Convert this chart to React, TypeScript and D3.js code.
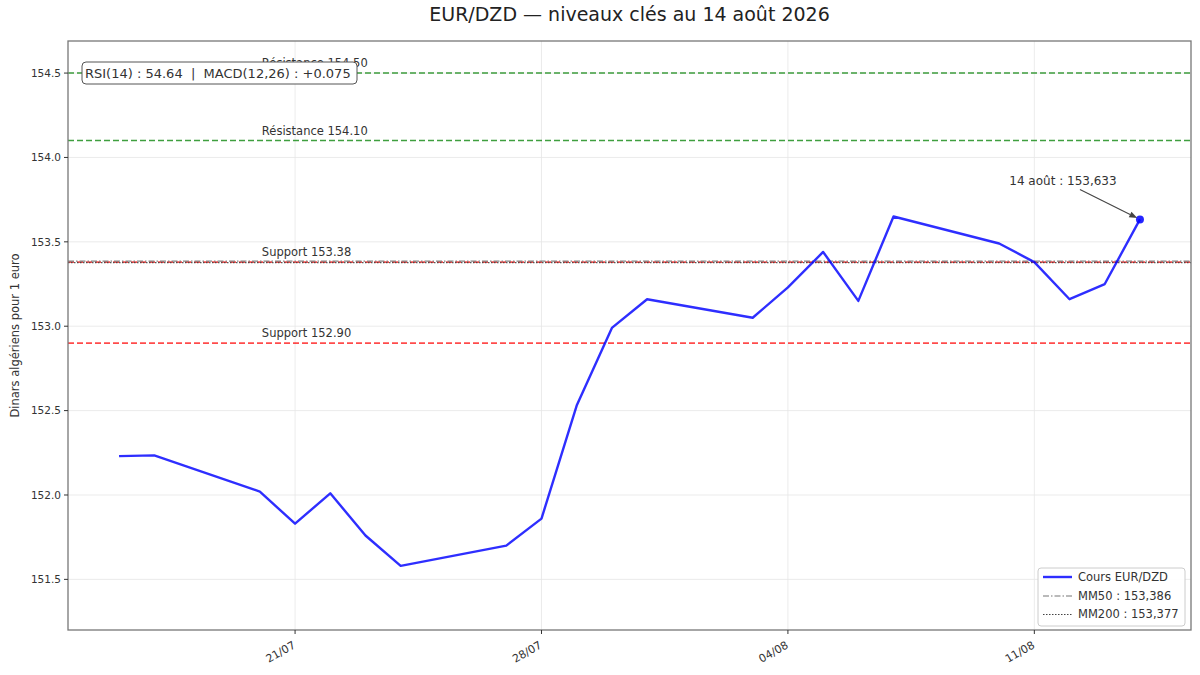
import React from "react";
import * as d3 from "d3";

const dates = [
  "2026-07-16", "2026-07-17", "2026-07-20", "2026-07-21", "2026-07-22", "2026-07-23", "2026-07-24",
  "2026-07-27", "2026-07-28", "2026-07-29", "2026-07-30", "2026-07-31",
  "2026-08-03", "2026-08-04", "2026-08-05", "2026-08-06", "2026-08-07",
  "2026-08-10", "2026-08-11", "2026-08-12", "2026-08-13", "2026-08-14",
];
const prices = [
  152.23, 152.235, 152.02, 151.83, 152.01, 151.76, 151.58,
  151.70, 151.86, 152.53, 152.99, 153.16,
  153.05, 153.23, 153.44, 153.15, 153.65,
  153.49, 153.38, 153.16, 153.25, 153.633,
];
const resistanceLevels = [154.5, 154.1];
const resistanceLabels = ["Résistance 154.50", "Résistance 154.10"];
const supportLevels = [153.38, 152.9];
const supportLabels = ["Support 153.38", "Support 152.90"];
const mm50 = 153.386;
const mm200 = 153.377;
const xTickDates = ["2026-07-21", "2026-07-28", "2026-08-04", "2026-08-11"];
const xTickLabels = ["21/07", "28/07", "04/08", "11/08"];
const yTicks = [151.5, 152.0, 152.5, 153.0, 153.5, 154.0, 154.5];
const legendLabels = ["Cours EUR/DZD", "MM50 : 153,386", "MM200 : 153,377"];
const title = "EUR/DZD — niveaux clés au 14 août 2026";
const yLabel = "Dinars algériens pour 1 euro";
const infoText = "RSI(14) : 54.64  |  MACD(12,26) : +0.075";
const annotationText = "14 août : 153,633";

const W = 1200;
const H = 675;
const M = { left: 68, right: 1191, top: 41, bottom: 630 };
const FONT = "'DejaVu Sans', sans-serif";

export default function App() {
  const parse = d3.utcParse("%Y-%m-%d");
  const pts = dates.map((d, i) => ({ date: parse(d) as Date, v: prices[i] }));
  const ext = d3.extent(pts, (p) => p.date.getTime()) as [number, number];
  const pad = (ext[1] - ext[0]) * 0.05;
  const x = d3.scaleUtc().domain([new Date(ext[0] - pad), new Date(ext[1] + pad)]).range([M.left, M.right]);
  const y = d3.scaleLinear().domain([151.2, 154.69]).range([M.bottom, M.top]);
  const line = d3.line<{ date: Date; v: number }>().x((p) => x(p.date)).y((p) => y(p.v));
  const last = pts[pts.length - 1];
  const lx = x(last.date);
  const ly = y(last.v);
  const labelX = x(pts[2].date) + 2;

  const levelLine = (val: number, color: string, dash: string, w: number, op: number, key: string) => (
    <line key={key} x1={M.left} x2={M.right} y1={y(val)} y2={y(val)} stroke={color} strokeWidth={w} strokeDasharray={dash} opacity={op} />
  );

  // annotation arrow geometry
  const ax0 = lx - 60, ay0 = ly - 30;
  const ang = Math.atan2(ly - ay0, lx - ax0);
  const tipX = lx - Math.cos(ang) * 3, tipY = ly - Math.sin(ang) * 3;
  const hl = 8, hw = 3;
  const bx = tipX - Math.cos(ang) * hl, by = tipY - Math.sin(ang) * hl;
  const head = `M${tipX},${tipY} L${bx - Math.sin(ang) * hw},${by + Math.cos(ang) * hw} L${bx + Math.sin(ang) * hw},${by - Math.cos(ang) * hw} Z`;

  return (
    <svg width={W} height={H} style={{ position: "absolute", left: 0, top: 0, background: "#fff" }} fontFamily={FONT}>
      <rect x={0} y={0} width={W} height={H} fill="#fff" />
      {/* grid */}
      {yTicks.map((t) => (
        <line key={"gy" + t} x1={M.left} x2={M.right} y1={y(t)} y2={y(t)} stroke="#e6e6e6" strokeWidth={0.8} />
      ))}
      {xTickDates.map((t) => (
        <line key={"gx" + t} x1={x(parse(t) as Date)} x2={x(parse(t) as Date)} y1={M.top} y2={M.bottom} stroke="#e6e6e6" strokeWidth={0.8} />
      ))}
      {/* levels */}
      {resistanceLevels.map((v, i) => levelLine(v, "green", "6,3", 1.6, 0.75, "r" + i))}
      {supportLevels.map((v, i) => levelLine(v, "red", "6,3", 1.6, 0.7, "s" + i))}
      {levelLine(mm50, "#777", "6,2,1.5,2", 1.2, 0.9, "mm50")}
      {levelLine(mm200, "#444", "1.5,1.5", 1.2, 0.9, "mm200")}
      {resistanceLevels.map((v, i) => (
        <text key={"rl" + i} x={labelX} y={y(v) - 6} fontSize={11.5} fill="#333">{resistanceLabels[i]}</text>
      ))}
      {supportLevels.map((v, i) => (
        <text key={"sl" + i} x={labelX} y={y(v) - 6} fontSize={11.5} fill="#333">{supportLabels[i]}</text>
      ))}
      {/* price */}
      <path d={line(pts) || ""} fill="none" stroke="blue" strokeOpacity={0.82} strokeWidth={2.4} strokeLinejoin="round" />
      <circle cx={lx} cy={ly} r={4} fill="blue" fillOpacity={0.85} />
      {/* annotation */}
      <line x1={ax0} y1={ay0} x2={bx} y2={by} stroke="#444" strokeWidth={1.1} />
      <path d={head} fill="#444" />
      <text x={lx - 77} y={ly - 34} fontSize={12} fill="#333" textAnchor="middle">{annotationText}</text>
      {/* info box */}
      <rect x={82} y={62} width={275} height={22} rx={4} fill="#fff" stroke="#555" strokeWidth={1} />
      <text x={85} y={73.5} dy="0.35em" fontSize={13} fill="#333" style={{ whiteSpace: "pre" }}>{infoText}</text>
      {/* spines */}
      <rect x={M.left} y={M.top} width={M.right - M.left} height={M.bottom - M.top} fill="none" stroke="#777" strokeWidth={1.3} />
      {/* y axis */}
      {yTicks.map((t) => (
        <g key={"yt" + t}>
          <line x1={M.left - 4} x2={M.left} y1={y(t)} y2={y(t)} stroke="#333" strokeWidth={1} />
          <text x={M.left - 7} y={y(t)} dy="0.35em" textAnchor="end" fontSize={10.5} fill="#333">{t.toFixed(1)}</text>
        </g>
      ))}
      <text transform={`translate(15,${(M.top + M.bottom) / 2}) rotate(-90)`} textAnchor="middle" dy="0.35em" fontSize={11.5} fill="#333">{yLabel}</text>
      {/* x axis */}
      {xTickDates.map((t, i) => {
        const px = x(parse(t) as Date);
        return (
          <g key={"xt" + t}>
            <line x1={px} x2={px} y1={M.bottom} y2={M.bottom + 4} stroke="#333" strokeWidth={1} />
            <text transform={`translate(${px - 3},${M.bottom + 10}) rotate(-30)`} textAnchor="end" dy="0.75em" fontSize={11} fill="#333">{xTickLabels[i]}</text>
          </g>
        );
      })}
      {/* legend */}
      <g>
        <rect x={1038} y={568} width={147} height={58} rx={3} fill="#fff" fillOpacity={0.9} stroke="#ccc" strokeWidth={1} />
        <line x1={1043} x2={1072} y1={577} y2={577} stroke="blue" strokeOpacity={0.82} strokeWidth={2.4} />
        <line x1={1043} x2={1072} y1={596} y2={596} stroke="#777" strokeWidth={1.2} strokeDasharray="6,2,1.5,2" />
        <line x1={1043} x2={1072} y1={614.5} y2={614.5} stroke="#444" strokeWidth={1.2} strokeDasharray="1.5,1.5" />
        {legendLabels.map((l, i) => (
          <text key={l} x={1078} y={577 + i * 18.7} dy="0.35em" fontSize={11.5} fill="#333">{l}</text>
        ))}
      </g>
      {/* title */}
      <text x={(M.left + M.right) / 2} y={21} textAnchor="middle" fontSize={19} fill="#222">{title}</text>
    </svg>
  );
}
